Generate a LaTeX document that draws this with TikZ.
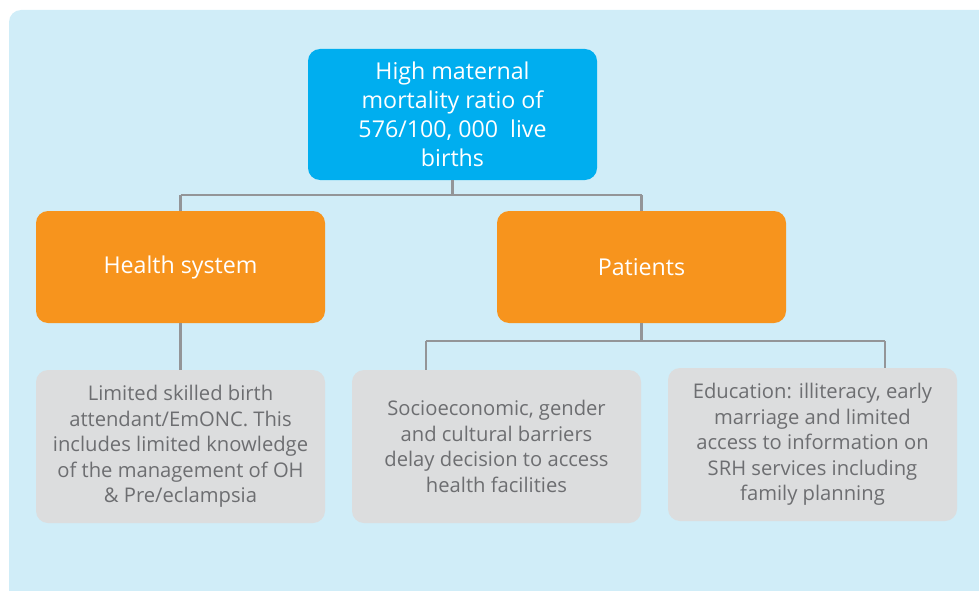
\documentclass[tikz,border=0pt]{standalone}
\usepackage{fontspec}
\setmainfont{Open Sans}
\definecolor{bgblue}{HTML}{D0EDF8}
\definecolor{topblue}{HTML}{00AEEF}
\definecolor{orng}{HTML}{F7941D}
\definecolor{boxgray}{HTML}{DCDDDE}
\definecolor{txtgray}{HTML}{6D6E71}
\definecolor{linegray}{HTML}{939598}
\begin{document}
\begin{tikzpicture}[x=1pt,y=-1pt,
  topbox/.style={fill=topblue,rounded corners=12pt,text=white,align=center,
    minimum width=289pt,minimum height=131pt,inner sep=0pt,
    font=\fontsize{23.2}{29}\selectfont},
  midbox/.style={fill=orng,rounded corners=12pt,text=white,align=center,
    minimum width=289pt,minimum height=112pt,inner sep=0pt,
    font=\fontsize{23.2}{25}\selectfont},
  leafbox/.style={fill=boxgray,rounded corners=12pt,text=txtgray,align=center,
    minimum width=289pt,minimum height=153pt,inner sep=0pt,
    font=\fontsize{20.2}{25.5}\selectfont},
  conn/.style={draw=linegray,line width=2.6pt}]
\useasboundingbox (0,0) rectangle (979,591);
\fill[bgblue,rounded corners=12pt] (9,10) rectangle (1000,620);
\node[topbox] (top) at (452.5,114.5) {High maternal\\mortality ratio of\\576/100, 000\ \ live\\births};
\node[midbox] (hs) at (180.5,267) {Health system};
\node[midbox] (pt) at (641.5,267) {Patients};
\node[leafbox] (l1) at (180.5,446.5) {Limited skilled birth\\attendant/EmONC. This\\includes limited knowledge\\of the management of OH\\\& Pre/eclampsia};
\node[leafbox] (l2) at (496.5,446.5) {Socioeconomic, gender\\and cultural barriers\\delay decision to access\\health facilities};
\node[leafbox] (l3) at (812.5,444.5) {Education: illiteracy, early\\marriage and limited\\access to information on\\SRH services including\\family planning};
\coordinate (j1) at (452.5,195);
\coordinate (j2) at (641.5,341);
\coordinate (d2) at (426,341);
\coordinate (d3) at (885,341);
\draw[conn] (top.south) -- (j1);
\draw[conn] (hs.north |- j1) -- (pt.north |- j1);
\draw[conn] (hs.north |- j1) -- (hs.north);
\draw[conn] (pt.north |- j1) -- (pt.north);
\draw[conn] (hs.south) -- (l1.north);
\draw[conn] (pt.south) -- (j2);
\draw[conn] (d2) -- (d3);
\draw[conn] (d2) -- (d2 |- l2.north);
\draw[conn] (d3) -- (d3 |- l3.north);
\end{tikzpicture}
\end{document}
